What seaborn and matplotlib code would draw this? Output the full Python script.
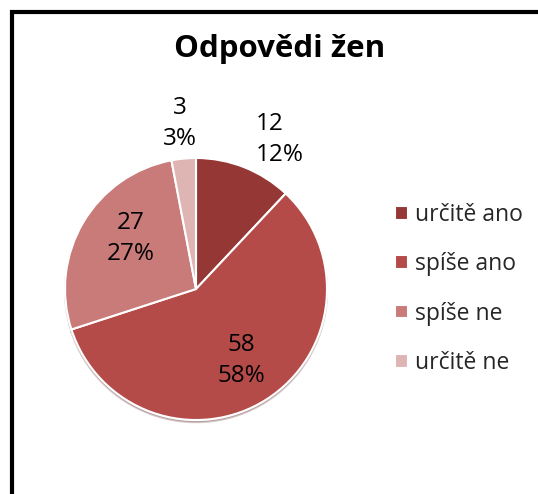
import numpy as np
import matplotlib
matplotlib.use('Agg')
import matplotlib.pyplot as plt
from matplotlib.lines import Line2D
import seaborn as sns

# data
categories = ['určitě ano', 'spíše ano', 'spíše ne', 'určitě ne']
values = [12, 58, 27, 3]
percents = ['12%', '58%', '27%', '3%']
title = 'Odpovědi žen'

colors = sns.color_palette(['#953735', '#B44B49', '#C97B7A', '#DFB5B4'])


def main():
    sns.set_theme(style='white')
    plt.rcParams['font.family'] = ['Open Sans', 'DejaVu Sans']

    W, H = 538, 494
    fig = plt.figure(figsize=(W / 100, H / 100), dpi=100)
    fig.patch.set_facecolor('white')

    # pie axes, centre (196, 289) px, radius 131 px
    cx, cy, r = 196, 289, 131
    ax = fig.add_axes([(cx - r) / W, (H - cy - r) / H, 2 * r / W, 2 * r / H])
    wedges, _ = ax.pie(values, colors=colors, startangle=90, counterclock=False,
                       wedgeprops=dict(edgecolor='white', linewidth=1.5),
                       shadow={'ox': 0.0, 'oy': -0.012, 'shade': 0.5, 'alpha': 0.25})
    ax.set_xlim(-1, 1)
    ax.set_ylim(-1, 1)
    ax.axis('off')

    # data labels: inside for big slices, outside for small ones
    label_r = [1.23, 0.65, 0.63, 1.27]
    label_dang = [0, 0, -7, 0]
    label_ha = ['left', 'center', 'center', 'center']
    for w, v, p, rr, da, ha in zip(wedges, values, percents, label_r, label_dang, label_ha):
        ang = np.deg2rad((w.theta1 + w.theta2) / 2 + da)
        ax.text(rr * np.cos(ang), rr * np.sin(ang), f'{v}\n{p}', ha=ha, va='center',
                fontsize=17.5, color='black', linespacing=1.4)

    fig.text(280 / W, 1 - 49 / H, title, ha='center', va='center',
             fontsize=22.5, fontweight='bold', color='black')

    fig.legend(wedges, categories, loc='center left',
               bbox_to_anchor=(384 / W, 1 - 289 / H), frameon=False,
               fontsize=16.5, handlelength=0.55, handleheight=0.55,
               handletextpad=0.3, labelspacing=1.1, borderpad=0)

    # chart border (left and top)
    fig.add_artist(Line2D([12 / W, 12 / W], [0, 1 - 10 / H], color='black',
                          linewidth=3, solid_capstyle='butt',
                          transform=fig.transFigure))
    fig.add_artist(Line2D([10 / W, 1], [1 - 12 / H, 1 - 12 / H], color='black',
                          linewidth=3, solid_capstyle='butt',
                          transform=fig.transFigure))

    fig.savefig('out.png', dpi=100)


if __name__ == '__main__':
    main()
